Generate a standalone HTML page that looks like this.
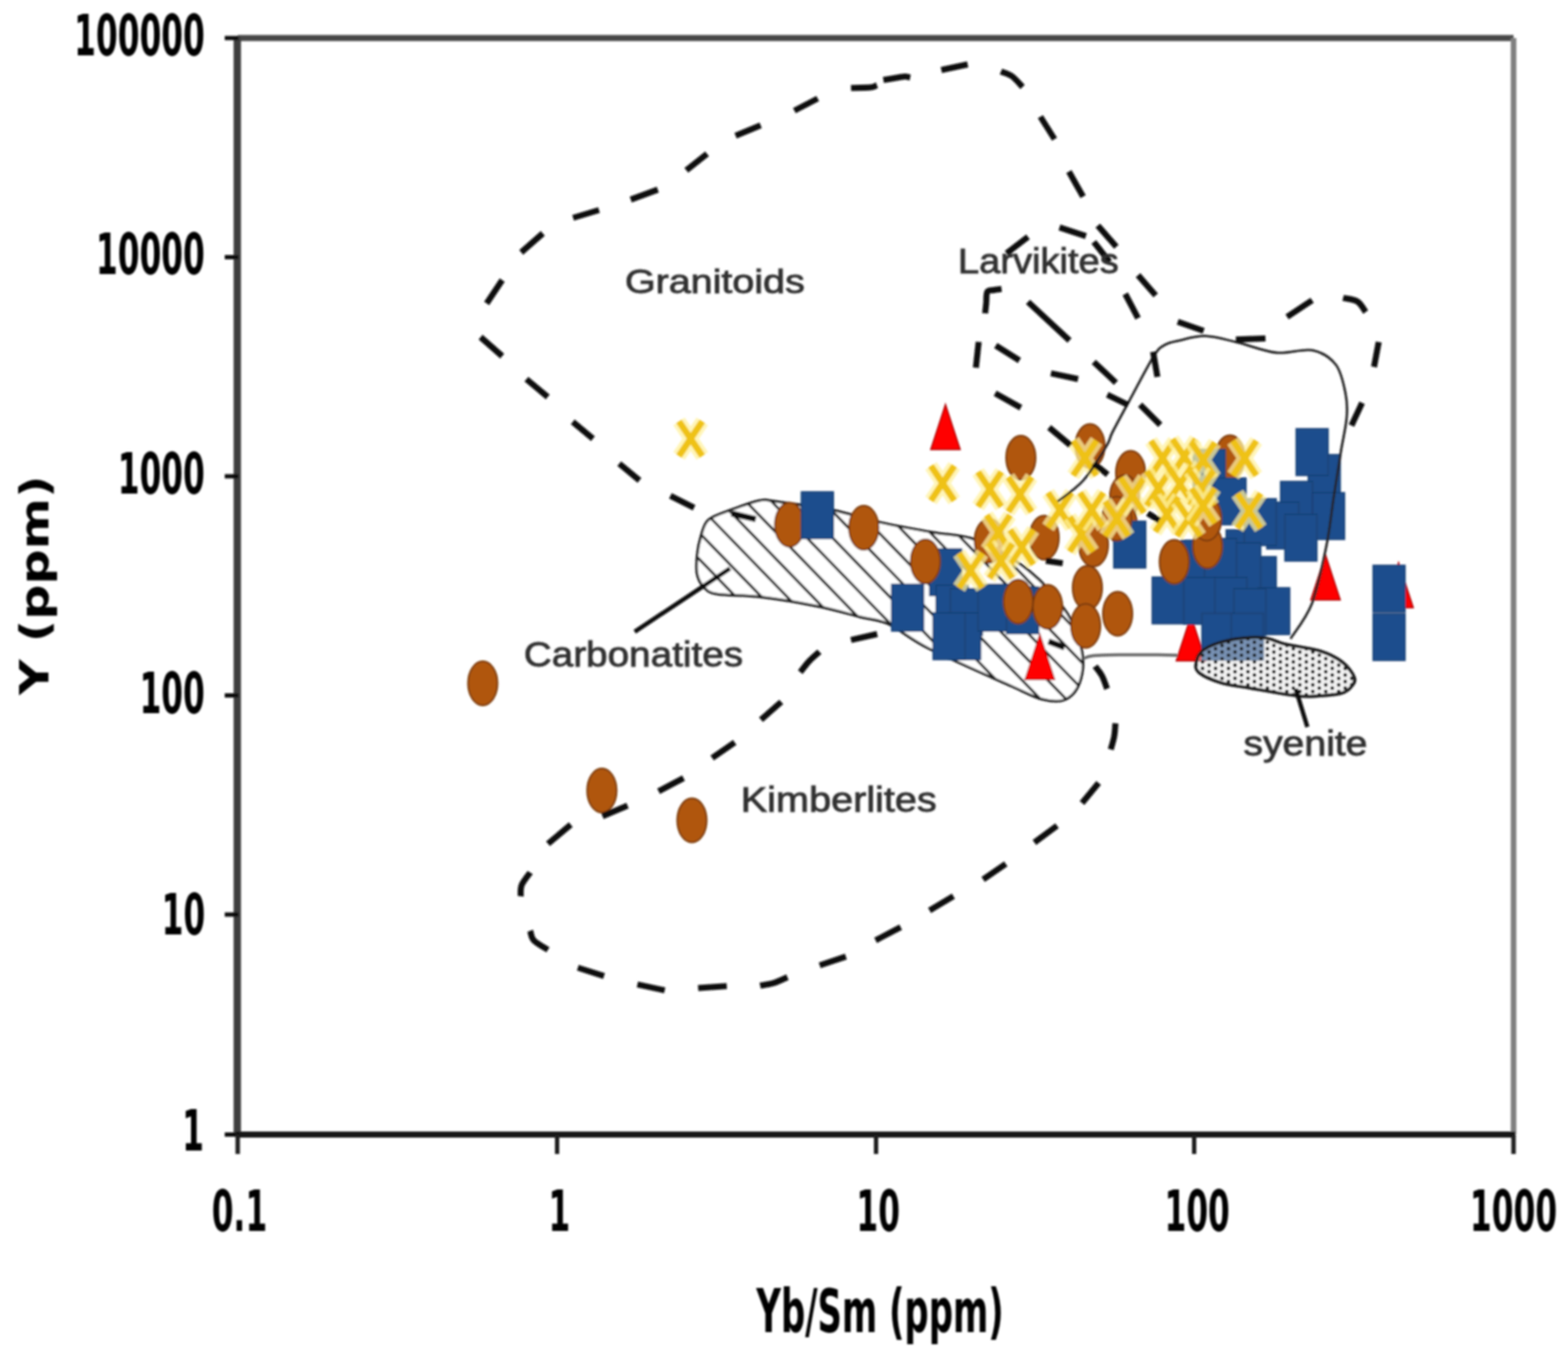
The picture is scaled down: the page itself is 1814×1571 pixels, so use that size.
<!DOCTYPE html>
<html><head><meta charset="utf-8"><title>Y vs Yb/Sm</title>
<style>html,body{margin:0;padding:0;background:#fff;overflow:hidden}svg{display:block}.lab{font-family:"Liberation Sans",Arial,sans-serif;fill:#303030;stroke:#303030;stroke-width:0.9px}.tick{font-family:"Liberation Sans",Arial,sans-serif;font-weight:bold;fill:#000}.tk{font-family:"DejaVu Sans","Liberation Sans",sans-serif;font-weight:bold;fill:#000}</style></head><body>
<svg width="1814" height="1571" viewBox="0 0 1814 1571">
<defs>
<pattern id="dots" patternUnits="userSpaceOnUse" width="15" height="7.6"><rect width="15" height="7.6" fill="#e4e4e4" fill-opacity="0.45"/><circle cx="3.75" cy="1.9" r="2.1" fill="#111"/><circle cx="11.25" cy="5.7" r="2.1" fill="#111"/></pattern>
<filter id="soft" x="0" y="0" width="1814" height="1571" filterUnits="userSpaceOnUse"><feGaussianBlur stdDeviation="1.2"/></filter>
</defs>
<rect width="1814" height="1571" fill="#fff"/>
<g filter="url(#soft)">
<clipPath id="cc"><path d="M819.7,601.3 C825.5,596.2 836.1,593.4 846,589.7 C855.9,586 870.7,580.6 879,579 C887.3,577.4 882.2,578 896,579.8 C909.8,581.6 941.3,585.6 962,589.7 C982.7,593.8 1000.3,600.2 1020,604.6 C1039.7,609 1061.7,612.6 1080,616 C1098.3,619.4 1111.7,617.7 1130,625 C1148.3,632.3 1172.5,645.8 1190,660 C1207.5,674.2 1224.7,694.2 1235,710 C1245.3,725.8 1249.7,741.7 1252,755 C1254.3,768.3 1252.3,780.9 1249,790 C1245.7,799.1 1239.2,806.3 1232,809.5 C1224.8,812.7 1216.2,811.6 1206,809 C1195.8,806.4 1192.5,803.8 1170.5,794 C1148.5,784.2 1097.8,762 1074,750 C1050.2,738 1041.2,728 1028,722 C1014.8,716 1008.8,717.2 995,713.7 C981.2,710.2 964.3,705.1 945,701.3 C925.7,697.4 898.2,692.9 879,690.6 C859.8,688.3 840.4,689.2 829.6,687.3 C818.8,685.4 817.9,682.9 814,679 C810.1,675.1 807.8,670.2 806.5,664.1 C805.2,658 805.8,650 806.5,642.6 C807.2,635.2 808.8,626.9 811,620 C813.2,613.1 813.9,606.3 819.7,601.3Z"/></clipPath>
<path d="M819.7,601.3 C825.5,596.2 836.1,593.4 846,589.7 C855.9,586 870.7,580.6 879,579 C887.3,577.4 882.2,578 896,579.8 C909.8,581.6 941.3,585.6 962,589.7 C982.7,593.8 1000.3,600.2 1020,604.6 C1039.7,609 1061.7,612.6 1080,616 C1098.3,619.4 1111.7,617.7 1130,625 C1148.3,632.3 1172.5,645.8 1190,660 C1207.5,674.2 1224.7,694.2 1235,710 C1245.3,725.8 1249.7,741.7 1252,755 C1254.3,768.3 1252.3,780.9 1249,790 C1245.7,799.1 1239.2,806.3 1232,809.5 C1224.8,812.7 1216.2,811.6 1206,809 C1195.8,806.4 1192.5,803.8 1170.5,794 C1148.5,784.2 1097.8,762 1074,750 C1050.2,738 1041.2,728 1028,722 C1014.8,716 1008.8,717.2 995,713.7 C981.2,710.2 964.3,705.1 945,701.3 C925.7,697.4 898.2,692.9 879,690.6 C859.8,688.3 840.4,689.2 829.6,687.3 C818.8,685.4 817.9,682.9 814,679 C810.1,675.1 807.8,670.2 806.5,664.1 C805.2,658 805.8,650 806.5,642.6 C807.2,635.2 808.8,626.9 811,620 C813.2,613.1 813.9,606.3 819.7,601.3Z" fill="#fff"/>
<path d="M427.6,560L689.7,830M457.3,560L719.4,830M487,560L749.1,830M516.7,560L778.8,830M546.4,560L808.5,830M576.1,560L838.2,830M605.8,560L867.9,830M635.5,560L897.6,830M665.2,560L927.3,830M694.9,560L957,830M724.6,560L986.7,830M754.3,560L1016.4,830M784,560L1046.1,830M813.7,560L1075.8,830M843.4,560L1105.5,830M873.1,560L1135.2,830M902.8,560L1164.9,830M932.5,560L1194.6,830M962.2,560L1224.3,830M991.9,560L1254,830M1021.6,560L1283.7,830M1051.3,560L1313.4,830M1081,560L1343.1,830M1110.7,560L1372.8,830M1140.4,560L1402.5,830M1170.1,560L1432.2,830M1199.8,560L1461.9,830M1229.5,560L1491.6,830M1259.2,560L1521.3,830M1288.9,560L1551,830M1318.6,560L1580.7,830M1348.3,560L1610.4,830M1378,560L1640.1,830M1407.7,560L1669.8,830M1437.4,560L1699.5,830M1467.1,560L1729.2,830M1496.8,560L1758.9,830" stroke="#1a1a1a" stroke-width="3.1" fill="none" clip-path="url(#cc)"/>
<path d="M819.7,601.3 C825.5,596.2 836.1,593.4 846,589.7 C855.9,586 870.7,580.6 879,579 C887.3,577.4 882.2,578 896,579.8 C909.8,581.6 941.3,585.6 962,589.7 C982.7,593.8 1000.3,600.2 1020,604.6 C1039.7,609 1061.7,612.6 1080,616 C1098.3,619.4 1111.7,617.7 1130,625 C1148.3,632.3 1172.5,645.8 1190,660 C1207.5,674.2 1224.7,694.2 1235,710 C1245.3,725.8 1249.7,741.7 1252,755 C1254.3,768.3 1252.3,780.9 1249,790 C1245.7,799.1 1239.2,806.3 1232,809.5 C1224.8,812.7 1216.2,811.6 1206,809 C1195.8,806.4 1192.5,803.8 1170.5,794 C1148.5,784.2 1097.8,762 1074,750 C1050.2,738 1041.2,728 1028,722 C1014.8,716 1008.8,717.2 995,713.7 C981.2,710.2 964.3,705.1 945,701.3 C925.7,697.4 898.2,692.9 879,690.6 C859.8,688.3 840.4,689.2 829.6,687.3 C818.8,685.4 817.9,682.9 814,679 C810.1,675.1 807.8,670.2 806.5,664.1 C805.2,658 805.8,650 806.5,642.6 C807.2,635.2 808.8,626.9 811,620 C813.2,613.1 813.9,606.3 819.7,601.3Z" fill="none" stroke="#1e1e1e" stroke-width="3"/>
<ellipse cx="558.5" cy="790.5" rx="17" ry="25.5" fill="#B0560E" stroke="#7B3A08" stroke-width="2"/>
<ellipse cx="696.3" cy="914.5" rx="17" ry="25.5" fill="#B0560E" stroke="#7B3A08" stroke-width="2"/>
<ellipse cx="800.5" cy="949" rx="17" ry="25.5" fill="#B0560E" stroke="#7B3A08" stroke-width="2"/>
<path d="M785.5,487.5L812.5,527.5M812.5,487.5L785.5,527.5" stroke="#FFF2A0" stroke-width="16" stroke-opacity="0.75" fill="none"/>
<path d="M785.5,487.5L812.5,527.5M812.5,487.5L785.5,527.5" stroke="#EFC212" stroke-width="7.5" fill="none"/>
<polygon points="1093.8,468 1110.8,520 1076.8,520" fill="#FF0000" stroke="#B00000" stroke-width="1.5" stroke-linejoin="miter"/>
<polygon points="1203,734 1220,786 1186,786" fill="#FF0000" stroke="#B00000" stroke-width="1.5" stroke-linejoin="miter"/>
<polygon points="1377.8,712.6 1394.8,764.6 1360.8,764.6" fill="#FF0000" stroke="#B00000" stroke-width="1.5" stroke-linejoin="miter"/>
<polygon points="1533.5,642 1550.5,694 1516.5,694" fill="#FF0000" stroke="#B00000" stroke-width="1.5" stroke-linejoin="miter"/>
<polygon points="1618,651 1635,703 1601,703" fill="#FF0000" stroke="#B00000" stroke-width="1.5" stroke-linejoin="miter"/>
<path d="M1077,539L1104,579M1104,539L1077,579" stroke="#FFF2A0" stroke-width="16" stroke-opacity="0.75" fill="none"/>
<path d="M1077,539L1104,579M1104,539L1077,579" stroke="#EFC212" stroke-width="7.5" fill="none"/>
<ellipse cx="913.5" cy="607" rx="17" ry="25.5" fill="#B0560E" stroke="#7B3A08" stroke-width="2"/>
<rect x="927.1" y="569" width="37" height="54" fill="#1F4E8D" stroke="#173f73" stroke-width="1.5"/>
<ellipse cx="999.3" cy="610.5" rx="17" ry="25.5" fill="#B0560E" stroke="#7B3A08" stroke-width="2"/>
<rect x="1075.5" y="635" width="37" height="54" fill="#1F4E8D" stroke="#173f73" stroke-width="1.5"/>
<ellipse cx="1070.7" cy="649.5" rx="17" ry="25.5" fill="#B0560E" stroke="#7B3A08" stroke-width="2"/>
<ellipse cx="1181" cy="529.5" rx="17" ry="25.5" fill="#B0560E" stroke="#7B3A08" stroke-width="2"/>
<ellipse cx="1261" cy="516" rx="17" ry="25.5" fill="#B0560E" stroke="#7B3A08" stroke-width="2"/>
<ellipse cx="1308" cy="547" rx="17" ry="25.5" fill="#B0560E" stroke="#7B3A08" stroke-width="2"/>
<ellipse cx="1301" cy="575" rx="17" ry="25.5" fill="#B0560E" stroke="#7B3A08" stroke-width="2"/>
<ellipse cx="1298" cy="605" rx="17" ry="25.5" fill="#B0560E" stroke="#7B3A08" stroke-width="2"/>
<ellipse cx="1144.5" cy="625.6" rx="17" ry="25.5" fill="#B0560E" stroke="#7B3A08" stroke-width="2"/>
<ellipse cx="1208" cy="622" rx="17" ry="25.5" fill="#B0560E" stroke="#7B3A08" stroke-width="2"/>
<ellipse cx="1265" cy="630" rx="17" ry="25.5" fill="#B0560E" stroke="#7B3A08" stroke-width="2"/>
<ellipse cx="1258" cy="680" rx="17" ry="25.5" fill="#B0560E" stroke="#7B3A08" stroke-width="2"/>
<ellipse cx="1256" cy="724" rx="17" ry="25.5" fill="#B0560E" stroke="#7B3A08" stroke-width="2"/>
<ellipse cx="1293" cy="710" rx="17" ry="25.5" fill="#B0560E" stroke="#7B3A08" stroke-width="2"/>
<ellipse cx="1423" cy="529" rx="17" ry="25.5" fill="#B0560E" stroke="#7B3A08" stroke-width="2"/>
<rect x="1031.5" y="676" width="37" height="54" fill="#1F4E8D" stroke="#173f73" stroke-width="1.5"/>
<rect x="1083" y="677" width="37" height="54" fill="#1F4E8D" stroke="#173f73" stroke-width="1.5"/>
<rect x="1099.5" y="681" width="37" height="54" fill="#1F4E8D" stroke="#173f73" stroke-width="1.5"/>
<rect x="1097.5" y="709" width="37" height="54" fill="#1F4E8D" stroke="#173f73" stroke-width="1.5"/>
<rect x="1079.5" y="709" width="37" height="54" fill="#1F4E8D" stroke="#173f73" stroke-width="1.5"/>
<rect x="1131.5" y="676" width="37" height="54" fill="#1F4E8D" stroke="#173f73" stroke-width="1.5"/>
<rect x="1288.5" y="603" width="37" height="54" fill="#1F4E8D" stroke="#173f73" stroke-width="1.5"/>
<rect x="1380.5" y="520" width="37" height="54" fill="#1F4E8D" stroke="#173f73" stroke-width="1.5"/>
<rect x="1404.5" y="553" width="37" height="54" fill="#1F4E8D" stroke="#173f73" stroke-width="1.5"/>
<rect x="1513.5" y="526" width="37" height="54" fill="#1F4E8D" stroke="#173f73" stroke-width="1.5"/>
<rect x="1499.5" y="496" width="37" height="54" fill="#1F4E8D" stroke="#173f73" stroke-width="1.5"/>
<rect x="1481.5" y="557" width="37" height="54" fill="#1F4E8D" stroke="#173f73" stroke-width="1.5"/>
<rect x="1518.5" y="570" width="37" height="54" fill="#1F4E8D" stroke="#173f73" stroke-width="1.5"/>
<rect x="1465.5" y="581" width="37" height="54" fill="#1F4E8D" stroke="#173f73" stroke-width="1.5"/>
<rect x="1486.5" y="595" width="37" height="54" fill="#1F4E8D" stroke="#173f73" stroke-width="1.5"/>
<rect x="1418.5" y="613" width="37" height="54" fill="#1F4E8D" stroke="#173f73" stroke-width="1.5"/>
<rect x="1439.5" y="577" width="37" height="54" fill="#1F4E8D" stroke="#173f73" stroke-width="1.5"/>
<rect x="1439.5" y="644" width="37" height="54" fill="#1F4E8D" stroke="#173f73" stroke-width="1.5"/>
<rect x="1366.5" y="625" width="37" height="54" fill="#1F4E8D" stroke="#173f73" stroke-width="1.5"/>
<rect x="1421.5" y="628" width="37" height="54" fill="#1F4E8D" stroke="#173f73" stroke-width="1.5"/>
<rect x="1393.5" y="623" width="37" height="54" fill="#1F4E8D" stroke="#173f73" stroke-width="1.5"/>
<rect x="1333" y="667.6" width="37" height="54" fill="#1F4E8D" stroke="#173f73" stroke-width="1.5"/>
<rect x="1369.5" y="668" width="37" height="54" fill="#1F4E8D" stroke="#173f73" stroke-width="1.5"/>
<rect x="1405.5" y="668" width="37" height="54" fill="#1F4E8D" stroke="#173f73" stroke-width="1.5"/>
<rect x="1455" y="680" width="37" height="54" fill="#1F4E8D" stroke="#173f73" stroke-width="1.5"/>
<rect x="1427.5" y="681" width="37" height="54" fill="#1F4E8D" stroke="#173f73" stroke-width="1.5"/>
<rect x="1390.5" y="709.5" width="37" height="54" fill="#1F4E8D" stroke="#173f73" stroke-width="1.5"/>
<rect x="1424.5" y="709.5" width="37" height="54" fill="#1F4E8D" stroke="#173f73" stroke-width="1.5"/>
<rect x="1588.5" y="654" width="37" height="54" fill="#1F4E8D" stroke="#173f73" stroke-width="1.5"/>
<rect x="1588.5" y="710" width="37" height="54" fill="#1F4E8D" stroke="#173f73" stroke-width="1.5"/>
<rect x="1164.5" y="679" width="37" height="54" fill="#1F4E8D" stroke="#173f73" stroke-width="1.5"/>
<ellipse cx="1178" cy="696" rx="17" ry="25.5" fill="#B0560E" stroke="#7B3A08" stroke-width="2"/>
<ellipse cx="1212" cy="702" rx="17" ry="25.5" fill="#B0560E" stroke="#7B3A08" stroke-width="2"/>
<ellipse cx="1358.5" cy="650" rx="17" ry="25.5" fill="#B0560E" stroke="#7B3A08" stroke-width="2"/>
<ellipse cx="1397" cy="632" rx="17" ry="25.5" fill="#B0560E" stroke="#7B3A08" stroke-width="2"/>
<ellipse cx="1396" cy="600" rx="17" ry="25.5" fill="#B0560E" stroke="#7B3A08" stroke-width="2"/>
<ellipse cx="1292" cy="600" rx="17" ry="25.5" fill="#B0560E" stroke="#7B3A08" stroke-width="2"/>
<path d="M1131.5,546L1158.5,586M1158.5,546L1131.5,586" stroke="#FFF2A0" stroke-width="16" stroke-opacity="0.75" fill="none"/>
<path d="M1131.5,546L1158.5,586M1158.5,546L1131.5,586" stroke="#EFC212" stroke-width="7.5" fill="none"/>
<path d="M1166.5,552L1193.5,592M1193.5,552L1166.5,592" stroke="#FFF2A0" stroke-width="16" stroke-opacity="0.75" fill="none"/>
<path d="M1166.5,552L1193.5,592M1193.5,552L1166.5,592" stroke="#EFC212" stroke-width="7.5" fill="none"/>
<path d="M1141.5,596L1168.5,636M1168.5,596L1141.5,636" stroke="#FFF2A0" stroke-width="16" stroke-opacity="0.75" fill="none"/>
<path d="M1141.5,596L1168.5,636M1168.5,596L1141.5,636" stroke="#EFC212" stroke-width="7.5" fill="none"/>
<path d="M1168.5,613L1195.5,653M1195.5,613L1168.5,653" stroke="#FFF2A0" stroke-width="16" stroke-opacity="0.75" fill="none"/>
<path d="M1168.5,613L1195.5,653M1195.5,613L1168.5,653" stroke="#EFC212" stroke-width="7.5" fill="none"/>
<path d="M1144.5,629L1171.5,669M1171.5,629L1144.5,669" stroke="#FFF2A0" stroke-width="16" stroke-opacity="0.75" fill="none"/>
<path d="M1144.5,629L1171.5,669M1171.5,629L1144.5,669" stroke="#EFC212" stroke-width="7.5" fill="none"/>
<path d="M1109.5,640L1136.5,680M1136.5,640L1109.5,680" stroke="#FFF2A0" stroke-width="16" stroke-opacity="0.75" fill="none"/>
<path d="M1109.5,640L1136.5,680M1136.5,640L1109.5,680" stroke="#EFC212" stroke-width="7.5" fill="none"/>
<path d="M1212.5,570L1239.5,610M1239.5,570L1212.5,610" stroke="#FFF2A0" stroke-width="16" stroke-opacity="0.75" fill="none"/>
<path d="M1212.5,570L1239.5,610M1239.5,570L1212.5,610" stroke="#EFC212" stroke-width="7.5" fill="none"/>
<path d="M1237.5,598L1264.5,638M1264.5,598L1237.5,638" stroke="#FFF2A0" stroke-width="16" stroke-opacity="0.75" fill="none"/>
<path d="M1237.5,598L1264.5,638M1264.5,598L1237.5,638" stroke="#EFC212" stroke-width="7.5" fill="none"/>
<path d="M1249.5,570L1276.5,610M1276.5,570L1249.5,610" stroke="#FFF2A0" stroke-width="16" stroke-opacity="0.75" fill="none"/>
<path d="M1249.5,570L1276.5,610M1276.5,570L1249.5,610" stroke="#EFC212" stroke-width="7.5" fill="none"/>
<path d="M1278.5,580L1305.5,620M1305.5,580L1278.5,620" stroke="#FFF2A0" stroke-width="16" stroke-opacity="0.75" fill="none"/>
<path d="M1278.5,580L1305.5,620M1305.5,580L1278.5,620" stroke="#EFC212" stroke-width="7.5" fill="none"/>
<path d="M1241.5,510L1268.5,550M1268.5,510L1241.5,550" stroke="#FFF2A0" stroke-width="16" stroke-opacity="0.75" fill="none"/>
<path d="M1241.5,510L1268.5,550M1268.5,510L1241.5,550" stroke="#EFC212" stroke-width="7.5" fill="none"/>
<path d="M1296.5,553L1323.5,593M1323.5,553L1296.5,593" stroke="#FFF2A0" stroke-width="16" stroke-opacity="0.75" fill="none"/>
<path d="M1296.5,553L1323.5,593M1323.5,553L1296.5,593" stroke="#EFC212" stroke-width="7.5" fill="none"/>
<path d="M1331.5,510L1358.5,550M1358.5,510L1331.5,550" stroke="#FFF2A0" stroke-width="16" stroke-opacity="0.75" fill="none"/>
<path d="M1331.5,510L1358.5,550M1358.5,510L1331.5,550" stroke="#EFC212" stroke-width="7.5" fill="none"/>
<path d="M1356.5,508L1383.5,548M1383.5,508L1356.5,548" stroke="#FFF2A0" stroke-width="16" stroke-opacity="0.75" fill="none"/>
<path d="M1356.5,508L1383.5,548M1383.5,508L1356.5,548" stroke="#EFC212" stroke-width="7.5" fill="none"/>
<path d="M1378.5,512L1405.5,552M1405.5,512L1378.5,552" stroke="#FFF2A0" stroke-width="16" stroke-opacity="0.75" fill="none"/>
<path d="M1378.5,512L1405.5,552M1405.5,512L1378.5,552" stroke="#EFC212" stroke-width="7.5" fill="none"/>
<path d="M1326.5,545L1353.5,585M1353.5,545L1326.5,585" stroke="#FFF2A0" stroke-width="16" stroke-opacity="0.75" fill="none"/>
<path d="M1326.5,545L1353.5,585M1353.5,545L1326.5,585" stroke="#EFC212" stroke-width="7.5" fill="none"/>
<path d="M1351.5,540L1378.5,580M1378.5,540L1351.5,580" stroke="#FFF2A0" stroke-width="16" stroke-opacity="0.75" fill="none"/>
<path d="M1351.5,540L1378.5,580M1378.5,540L1351.5,580" stroke="#EFC212" stroke-width="7.5" fill="none"/>
<path d="M1376.5,545L1403.5,585M1403.5,545L1376.5,585" stroke="#FFF2A0" stroke-width="16" stroke-opacity="0.75" fill="none"/>
<path d="M1376.5,545L1403.5,585M1403.5,545L1376.5,585" stroke="#EFC212" stroke-width="7.5" fill="none"/>
<path d="M1336.5,575L1363.5,615M1363.5,575L1336.5,615" stroke="#FFF2A0" stroke-width="16" stroke-opacity="0.75" fill="none"/>
<path d="M1336.5,575L1363.5,615M1363.5,575L1336.5,615" stroke="#EFC212" stroke-width="7.5" fill="none"/>
<path d="M1361.5,580L1388.5,620M1388.5,580L1361.5,620" stroke="#FFF2A0" stroke-width="16" stroke-opacity="0.75" fill="none"/>
<path d="M1361.5,580L1388.5,620M1388.5,580L1361.5,620" stroke="#EFC212" stroke-width="7.5" fill="none"/>
<path d="M1378.5,565L1405.5,605M1405.5,565L1378.5,605" stroke="#FFF2A0" stroke-width="16" stroke-opacity="0.75" fill="none"/>
<path d="M1378.5,565L1405.5,605M1405.5,565L1378.5,605" stroke="#EFC212" stroke-width="7.5" fill="none"/>
<path d="M1431.5,571L1458.5,611M1458.5,571L1431.5,611" stroke="#FFF2A0" stroke-width="16" stroke-opacity="0.75" fill="none"/>
<path d="M1431.5,571L1458.5,611M1458.5,571L1431.5,611" stroke="#EFC212" stroke-width="7.5" fill="none"/>
<path d="M1426.5,510L1453.5,550M1453.5,510L1426.5,550" stroke="#FFF2A0" stroke-width="16" stroke-opacity="0.75" fill="none"/>
<path d="M1426.5,510L1453.5,550M1453.5,510L1426.5,550" stroke="#EFC212" stroke-width="7.5" fill="none"/>
<path d="M1384,766 C1383.2,770.3 1382.2,774 1387,778 C1391.8,782 1403.2,787 1413,790 C1422.8,793 1431.5,793.5 1446,796 C1460.5,798.5 1486.5,803.5 1500,805 C1513.5,806.5 1518.3,805.5 1527,805 C1535.7,804.5 1546,803.7 1552,802 C1558,800.3 1560.5,797.8 1563,794.8 C1565.5,791.8 1568.7,788.8 1567,784 C1565.3,779.2 1559.7,771.2 1553,766 C1546.3,760.8 1538.2,756.5 1527,753 C1515.8,749.5 1497.2,747.6 1486,745 C1474.8,742.4 1471,738.2 1460,737.5 C1449,736.8 1431.3,738.6 1420,741 C1408.7,743.4 1398,747.8 1392,752 C1386,756.2 1384.8,761.7 1384,766Z" fill="url(#dots)" stroke="#1a1a1a" stroke-width="3.6"/>
<path d="M1223.6,580 C1228.6,576 1244,566.4 1253.4,555.7 C1262.8,545 1274.4,525.3 1280,516 C1285.6,506.7 1282.5,508.8 1287,500 C1291.5,491.2 1298.7,478 1306.7,463.3 C1314.7,448.6 1327.9,422.8 1334.8,412 C1341.7,401.2 1343,401.8 1348,398.8 C1353,395.8 1356.9,395.6 1364.6,393.9 C1372.3,392.2 1383.1,388.4 1394,388.7 C1404.9,389 1416,392.4 1429.8,395.6 C1443.6,398.8 1461.9,406.4 1476.6,408 C1491.3,409.6 1506.5,402.9 1518,405.2 C1529.5,407.5 1539.1,413.7 1545.5,422 C1551.9,430.3 1554.5,444.9 1556.6,455 C1558.7,465.1 1558.9,471.2 1558,482.7 C1557.1,494.2 1553.5,508.6 1551,524 C1548.5,539.4 1545.8,557.1 1543,575 C1540.2,592.9 1538.7,611 1534.5,631.5 C1530.3,652 1524.9,679.8 1518,697.7 C1511.1,715.6 1497.2,732.1 1493,739" fill="none" stroke="#222" stroke-width="2.8"/>
<path d="M1253,762 C1255,761.4 1257.2,759.2 1265,758.5 C1272.8,757.8 1287.5,757.7 1300,757.5 C1312.5,757.3 1329.7,757.4 1340,757.5 C1350.3,757.6 1358.3,757.9 1362,758" fill="none" stroke="#666" stroke-width="3.5"/>
<line x1="734.3" y1="730.8" x2="844.5" y2="657.7" stroke="#111" stroke-width="5"/>
<line x1="1499" y1="797" x2="1512.5" y2="841" stroke="#111" stroke-width="5"/>
<g fill="none" stroke="#111" stroke-width="7" stroke-linecap="butt" stroke-linejoin="round">
<line x1="775.6" y1="573.6" x2="803" y2="587.4"/>
<line x1="716.4" y1="536.4" x2="739.8" y2="555.7"/>
<line x1="662.6" y1="488" x2="686" y2="507.5"/>
<line x1="609" y1="438.6" x2="633.7" y2="459.3"/>
<line x1="556" y1="390" x2="581" y2="412"/>
<line x1="563" y1="351" x2="581" y2="324"/>
<line x1="603" y1="292" x2="628" y2="270"/>
<line x1="663" y1="252" x2="693" y2="243"/>
<line x1="729.7" y1="230.9" x2="761" y2="219.4"/>
<line x1="794" y1="197" x2="818" y2="178"/>
<line x1="851" y1="157" x2="880" y2="145"/>
<line x1="919" y1="128" x2="946" y2="114"/>
<path d="M984.5,101.8 C988.4,101.7 1003,101.5 1008,101 C1013,100.5 1013.4,98.9 1014.5,98.5"/>
<path d="M1022,92.5 C1025,92 1035.8,90.2 1040,89.5 C1044.2,88.8 1044.8,88.5 1047,88.5 C1049.2,88.5 1052,89.6 1053,89.8"/>
<line x1="1089" y1="81" x2="1119.5" y2="74.5"/>
<path d="M1158,82.7 C1160.1,83.6 1166.3,85 1170.5,88 C1174.7,91 1180.9,98.5 1183,100.6"/>
<line x1="1203.6" y1="135" x2="1220" y2="161"/>
<line x1="1236.6" y1="198.5" x2="1253" y2="227.4"/>
<line x1="1270" y1="261" x2="1291.5" y2="285.5"/>
<line x1="1316.6" y1="318.4" x2="1337" y2="341.8"/>
<line x1="1362.5" y1="372.2" x2="1392.5" y2="382.7"/>
<line x1="1429.8" y1="392.8" x2="1464" y2="391.4"/>
<line x1="1489" y1="366.6" x2="1518" y2="347.3"/>
<path d="M1553.8,344.6 C1556.5,345.3 1565.9,346 1570.3,348.7 C1574.7,351.4 1578.4,358.9 1580,361"/>
<line x1="1595" y1="395.6" x2="1589.6" y2="424.5"/>
<line x1="1575.8" y1="466" x2="1563.5" y2="492.3"/>
<line x1="846.3" y1="594" x2="874.4" y2="600.7"/>
<line x1="1164.5" y1="293" x2="1189.3" y2="274"/>
<line x1="1225.7" y1="263.2" x2="1256.3" y2="273.2"/>
<line x1="1265.4" y1="279.8" x2="1283.6" y2="303"/>
<line x1="1301.8" y1="340" x2="1316.6" y2="368.2"/>
<path d="M1139.7,362.5 C1139.9,360.4 1140.6,354.1 1141,350 C1141.4,345.9 1140.7,340 1142.2,337.6 C1143.7,335.2 1147.2,336.1 1150,335.5 C1152.8,334.9 1157.2,334.5 1158.7,334.3"/>
<line x1="1189.3" y1="349.2" x2="1237.3" y2="393.9"/>
<line x1="1132.2" y1="395.5" x2="1129" y2="425.3"/>
<line x1="1152" y1="399.7" x2="1179.4" y2="417"/>
<line x1="1215.8" y1="431.9" x2="1247.2" y2="438.5"/>
<line x1="1265.4" y1="418.7" x2="1291" y2="442.7"/>
<line x1="1334" y1="407" x2="1339" y2="436"/>
<line x1="1151.3" y1="455" x2="1181" y2="471.6"/>
<line x1="1281" y1="456.7" x2="1305" y2="468.3"/>
<line x1="1319" y1="468.3" x2="1342.3" y2="491.4"/>
<line x1="1213.7" y1="494.5" x2="1238.5" y2="515.2"/>
<line x1="1265" y1="536" x2="1281.5" y2="549"/>
<line x1="1327.8" y1="593.7" x2="1341" y2="602"/>
<line x1="1210" y1="648.8" x2="1229.5" y2="651.6"/>
<line x1="984.5" y1="740.4" x2="1014.8" y2="733.5"/>
<line x1="1213" y1="742" x2="1231.5" y2="749"/>
<path d="M925.9,777.6 C927.6,775.5 932.3,768.9 936,765 C939.7,761.1 946,755.8 948,754"/>
<line x1="880.4" y1="832.7" x2="903.8" y2="812"/>
<line x1="823.9" y1="876.8" x2="850" y2="858.9"/>
<line x1="761.9" y1="915.4" x2="790.8" y2="900.2"/>
<line x1="697" y1="944.3" x2="726" y2="932"/>
<line x1="634" y1="976.2" x2="660.3" y2="954"/>
<path d="M613.4,1009.3 C611.8,1011.8 605.3,1019.4 603.5,1024 C601.7,1028.6 602.6,1034.7 602.4,1036.8"/>
<path d="M613.4,1076.8 C614.1,1078.6 614.1,1084.1 617.5,1087.8 C620.9,1091.5 631.2,1097 634,1098.8"/>
<line x1="668.5" y1="1119.5" x2="698.8" y2="1129.2"/>
<line x1="737.4" y1="1138.8" x2="769" y2="1145.7"/>
<line x1="807.7" y1="1143" x2="840.8" y2="1140.7"/>
<path d="M879.4,1140.2 C881.9,1139.7 889.2,1139 894.5,1137.4 C899.8,1135.8 908.2,1131.7 911,1130.5"/>
<line x1="948.3" y1="1116.8" x2="978.6" y2="1106.6"/>
<line x1="1013" y1="1087.8" x2="1042" y2="1072.7"/>
<line x1="1075.4" y1="1053.2" x2="1103" y2="1036.7"/>
<line x1="1137.4" y1="1017.4" x2="1163.6" y2="999.4"/>
<line x1="1196.7" y1="974.6" x2="1222.9" y2="955.3"/>
<line x1="1251.8" y1="929" x2="1271" y2="905.7"/>
<path d="M1285,867 C1285.7,864.5 1288.1,857 1289,852 C1289.9,847 1290.2,839.3 1290.4,836.8"/>
<path d="M1267,770.7 C1268.3,772.6 1272.7,777.6 1275,782 C1277.3,786.4 1279.8,794.4 1280.8,796.9"/>
</g>
<g stroke-linecap="butt">
<line x1="275" y1="44" x2="1751" y2="44" stroke="#474747" stroke-width="7"/>
<line x1="1751" y1="44" x2="1751" y2="1312.5" stroke="#808080" stroke-width="6.5"/>
<line x1="274.5" y1="42" x2="274.5" y2="1312.5" stroke="#3d3d3d" stroke-width="8.5"/>
<line x1="273" y1="1312.5" x2="1753" y2="1312.5" stroke="#141414" stroke-width="7.2"/>
<line x1="260" y1="44" x2="276" y2="44" stroke="#111" stroke-width="5"/>
<line x1="260" y1="297.5" x2="276" y2="297.5" stroke="#111" stroke-width="5"/>
<line x1="260" y1="551" x2="276" y2="551" stroke="#111" stroke-width="5"/>
<line x1="260" y1="804.5" x2="276" y2="804.5" stroke="#111" stroke-width="5"/>
<line x1="260" y1="1058" x2="276" y2="1058" stroke="#111" stroke-width="5"/>
<line x1="260" y1="1312.5" x2="276" y2="1312.5" stroke="#111" stroke-width="5"/>
<line x1="275" y1="1312.5" x2="275" y2="1335" stroke="#1a1a1a" stroke-width="5"/>
<line x1="644.5" y1="1312.5" x2="644.5" y2="1335" stroke="#1a1a1a" stroke-width="5"/>
<line x1="1013.5" y1="1312.5" x2="1013.5" y2="1335" stroke="#1a1a1a" stroke-width="5"/>
<line x1="1381.5" y1="1312.5" x2="1381.5" y2="1335" stroke="#1a1a1a" stroke-width="5"/>
<line x1="1751" y1="1312.5" x2="1751" y2="1335" stroke="#1a1a1a" stroke-width="5"/>
</g>
<text class="tk" font-size="66" text-anchor="end" transform="translate(237,63.5) scale(0.549,1)">100000</text>
<text class="tk" font-size="66" text-anchor="end" transform="translate(237,316.5) scale(0.549,1)">10000</text>
<text class="tk" font-size="66" text-anchor="end" transform="translate(237,571) scale(0.549,1)">1000</text>
<text class="tk" font-size="66" text-anchor="end" transform="translate(237,825) scale(0.549,1)">100</text>
<text class="tk" font-size="66" text-anchor="end" transform="translate(237.5,1080.5) scale(0.549,1)">10</text>
<text class="tk" font-size="66" text-anchor="end" transform="translate(236,1331) scale(0.549,1)">1</text>
<text class="tk" font-size="66" text-anchor="middle" transform="translate(277,1423.5) scale(0.549,1)">0.1</text>
<text class="tk" font-size="66" text-anchor="middle" transform="translate(647,1423.5) scale(0.549,1)">1</text>
<text class="tk" font-size="66" text-anchor="middle" transform="translate(1016,1423.5) scale(0.549,1)">10</text>
<text class="tk" font-size="66" text-anchor="middle" transform="translate(1385,1423.5) scale(0.549,1)">100</text>
<text class="tk" font-size="66" text-anchor="middle" transform="translate(1751,1423.5) scale(0.549,1)">1000</text>
<text class="tk" font-size="70" text-anchor="start" transform="translate(875,1541) scale(0.56,1)">Yb/Sm (ppm)</text>
<text class="tk" font-size="47" fill="#111" textLength="254" lengthAdjust="spacingAndGlyphs" transform="translate(56,804) rotate(-90)">Y (ppm)</text>
<text class="lab" font-size="38" x="723" y="339" textLength="208" lengthAdjust="spacingAndGlyphs">Granitoids</text>
<text class="lab" font-size="40" x="1108.3" y="316" textLength="186" lengthAdjust="spacingAndGlyphs">Larvikites</text>
<text class="lab" font-size="40" x="606" y="770.7" textLength="253.7" lengthAdjust="spacingAndGlyphs">Carbonatites</text>
<text class="lab" font-size="40" x="857" y="939" textLength="226.7" lengthAdjust="spacingAndGlyphs">Kimberlites</text>
<text class="lab" font-size="40" x="1438.6" y="874.2" textLength="143.4" lengthAdjust="spacingAndGlyphs">syenite</text>
</g>
</svg></body></html>
